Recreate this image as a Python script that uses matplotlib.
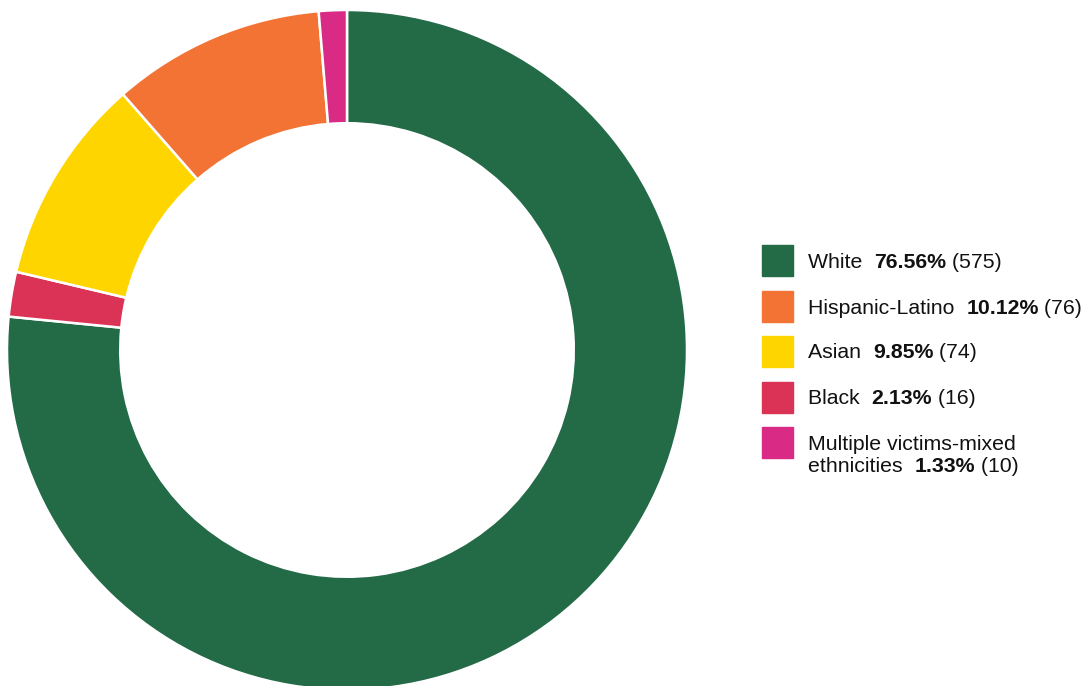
import matplotlib
matplotlib.use("Agg")
import matplotlib.pyplot as plt
from matplotlib.patches import Rectangle

plt.rcParams['font.family'] = ['Liberation Sans', 'DejaVu Sans']

# legend order
labels = ["White", "Hispanic-Latino", "Asian", "Black", "Multiple victims-mixed\nethnicities"]
pcts = [76.56, 10.12, 9.85, 2.13, 1.33]
counts = [575, 76, 74, 16, 10]
colors = ["#236A47", "#F37335", "#FFD500", "#DB3355", "#D92B85"]

# clockwise order of wedges from the top
wedge_order = [0, 3, 2, 1, 4]

W, H = 1085, 686
fig = plt.figure(figsize=(W / 100, H / 100), dpi=100)

# donut: centre (347, 350), radius 340 px
cx, cy, r = 347, 350, 340
ax = fig.add_axes([(cx - r) / W, (H - cy - r) / H, 2 * r / W, 2 * r / H])
ax.pie([pcts[i] for i in wedge_order],
       colors=[colors[i] for i in wedge_order],
       startangle=90, counterclock=False, radius=1,
       wedgeprops=dict(width=0.333, edgecolor="white", linewidth=1.8))
ax.set_xlim(-1, 1)
ax.set_ylim(-1, 1)
ax.set_aspect("equal")
ax.axis("off")

# legend drawn by hand
row_y = [261, 306, 351, 397, 442]
box_x, box_w = 762, 31
text_x = 808
text_dy = 2  # text sits a little below the box centre
fs = 15.3

for i, lab in enumerate(labels):
    y = row_y[i]
    fig.patches.append(Rectangle((box_x / W, (H - y - box_w / 2) / H), box_w / W, box_w / H,
                                 transform=fig.transFigure, color=colors[i]))
    ty = y + text_dy
    lines = lab.split("\n")
    for j, line in enumerate(lines[:-1]):
        fig.text(text_x / W, (H - ty - 23 * j) / H, line, fontsize=fs, va="center", color="#111111")
    last_y = ty + 23 * (len(lines) - 1)
    t1 = fig.text(text_x / W, (H - last_y) / H, lines[-1] + "  ", fontsize=fs, va="center", color="#111111")
    t2 = ax.annotate(f"{pcts[i]:.2f}%", xy=(1, 0), xycoords=t1, va="bottom", ha="left",
                     fontsize=fs, fontweight="bold", color="#111111", annotation_clip=False)
    ax.annotate(f" ({counts[i]})", xy=(1, 0), xycoords=t2, va="bottom", ha="left",
                fontsize=fs, color="#111111", annotation_clip=False)

fig.savefig("out.png", dpi=100)
